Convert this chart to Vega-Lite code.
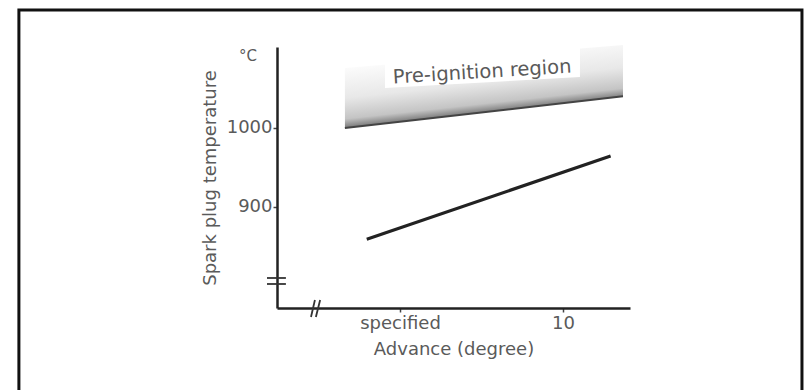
{
  "$schema": "https://vega.github.io/schema/vega-lite/v6.json",
  "autosize": "none",
  "width": 353,
  "height": 261,
  "padding": {"left": 277, "top": 47, "right": 174, "bottom": 82},
  "background": "white",
  "config": {
    "view": {"stroke": null},
    "font": "DejaVu Sans"
  },
  "datasets": {
    "border": [{"x1": -6.69, "x2": 17.33, "y1": 1149.4, "y2": 655.5}],
    "band": [
      {"adv": 3.31, "upper": 1076, "lower": 1000},
      {"adv": 11.84, "upper": 1105, "lower": 1040}
    ],
    "labelbox": [
      {"adv": 4.54, "top": 1092.4, "bottom": 1050.6},
      {"adv": 10.52, "top": 1105, "bottom": 1064.5}
    ],
    "label": [{"adv": 7.52, "temp": 1070.8, "text": "Pre-ignition region"}],
    "unit": [{"adv": 0.34, "temp": 1091.1, "text": "°C"}],
    "temp": [
      {"adv": 3.98, "temp": 859},
      {"adv": 11.46, "temp": 964.5}
    ],
    "ybreak": [
      {"xa": 0.92, "xb": 1.5, "ya": 810, "yb": 810},
      {"xa": 0.92, "xb": 1.5, "ya": 802.4, "yb": 802.4}
    ],
    "xbreak": [
      {"xa": 2.27, "xb": 2.39, "ya": 760.6, "yb": 782.1},
      {"xa": 2.42, "xb": 2.55, "ya": 760.6, "yb": 782.1}
    ]
  },
  "layer": [
    {
      "data": {"name": "border"},
      "mark": {"type": "rect", "fill": null, "stroke": "#111", "strokeWidth": 3, "clip": false},
      "encoding": {
        "x": {"field": "x1", "type": "quantitative", "scale": {"domain": [1.227, 12.055], "nice": false, "zero": false},
          "axis": {"values": [5, 10], "labelExpr": "datum.value == 5 ? 'specified' : '10'", "grid": false,
            "domainColor": "#222", "domainWidth": 2.5, "tickColor": "#444", "tickSize": 4, "tickWidth": 1.5,
            "labelFont": "DejaVu Sans", "labelFontSize": 18, "labelColor": "#5a5a5a", "labelPadding": 2,
            "title": "Advance (degree)", "titleFont": "DejaVu Sans", "titleFontSize": 18, "titleFontWeight": "normal",
            "titleColor": "#5a5a5a", "titlePadding": 8}},
        "x2": {"field": "x2"},
        "y": {"field": "y1", "type": "quantitative", "scale": {"domain": [772, 1102.5], "nice": false, "zero": false},
          "axis": {"values": [900, 1000], "format": "d", "grid": false,
            "domainColor": "#222", "domainWidth": 2.5, "tickColor": "#444", "tickSize": 4, "tickWidth": 1.5,
            "labelFont": "DejaVu Sans", "labelFontSize": 18, "labelColor": "#5a5a5a", "labelPadding": 1,
            "title": "Spark plug temperature", "titleFont": "DejaVu Sans", "titleFontSize": 18, "titleFontWeight": "normal",
            "titleColor": "#5a5a5a", "titlePadding": 7}},
        "y2": {"field": "y2"}
      }
    },
    {
      "data": {"name": "band"},
      "mark": {"type": "area", "clip": false,
        "fill": {"gradient": "linear", "x1": 0, "y1": 0.28, "x2": 0.234, "y2": 0.913,
          "stops": [
            {"offset": 0, "color": "#fbfbfb"},
            {"offset": 0.5, "color": "#e8e8e8"},
            {"offset": 0.85, "color": "#c4c4c4"},
            {"offset": 1, "color": "#7a7a7a"}
          ]}},
      "encoding": {
        "x": {"field": "adv", "type": "quantitative"},
        "y": {"field": "upper", "type": "quantitative"},
        "y2": {"field": "lower"}
      }
    },
    {
      "data": {"name": "band"},
      "mark": {"type": "line", "color": "#444", "strokeWidth": 2, "clip": false},
      "encoding": {
        "x": {"field": "adv", "type": "quantitative"},
        "y": {"field": "lower", "type": "quantitative"}
      }
    },
    {
      "data": {"name": "labelbox"},
      "mark": {"type": "area", "fill": "white", "clip": false},
      "encoding": {
        "x": {"field": "adv", "type": "quantitative"},
        "y": {"field": "top", "type": "quantitative"},
        "y2": {"field": "bottom"}
      }
    },
    {
      "data": {"name": "label"},
      "mark": {"type": "text", "font": "DejaVu Sans", "fontSize": 19.5, "color": "#5a5a5a", "angle": -3.5, "align": "center", "baseline": "middle", "clip": false},
      "encoding": {
        "x": {"field": "adv", "type": "quantitative"},
        "y": {"field": "temp", "type": "quantitative"},
        "text": {"field": "text"}
      }
    },
    {
      "data": {"name": "unit"},
      "mark": {"type": "text", "font": "DejaVu Sans", "fontSize": 15, "color": "#5a5a5a", "align": "center", "baseline": "middle", "clip": false},
      "encoding": {
        "x": {"field": "adv", "type": "quantitative"},
        "y": {"field": "temp", "type": "quantitative"},
        "text": {"field": "text"}
      }
    },
    {
      "data": {"name": "temp"},
      "mark": {"type": "line", "color": "#222", "strokeWidth": 3.2, "clip": false},
      "encoding": {
        "x": {"field": "adv", "type": "quantitative"},
        "y": {"field": "temp", "type": "quantitative"}
      }
    },
    {
      "data": {"name": "ybreak"},
      "mark": {"type": "rule", "color": "#333", "strokeWidth": 1.8, "clip": false},
      "encoding": {
        "x": {"field": "xa", "type": "quantitative"},
        "x2": {"field": "xb"},
        "y": {"field": "ya", "type": "quantitative"},
        "y2": {"field": "yb"}
      }
    },
    {
      "data": {"name": "xbreak"},
      "mark": {"type": "rule", "color": "#333", "strokeWidth": 1.8, "clip": false},
      "encoding": {
        "x": {"field": "xa", "type": "quantitative"},
        "x2": {"field": "xb"},
        "y": {"field": "ya", "type": "quantitative"},
        "y2": {"field": "yb"}
      }
    }
  ]
}
